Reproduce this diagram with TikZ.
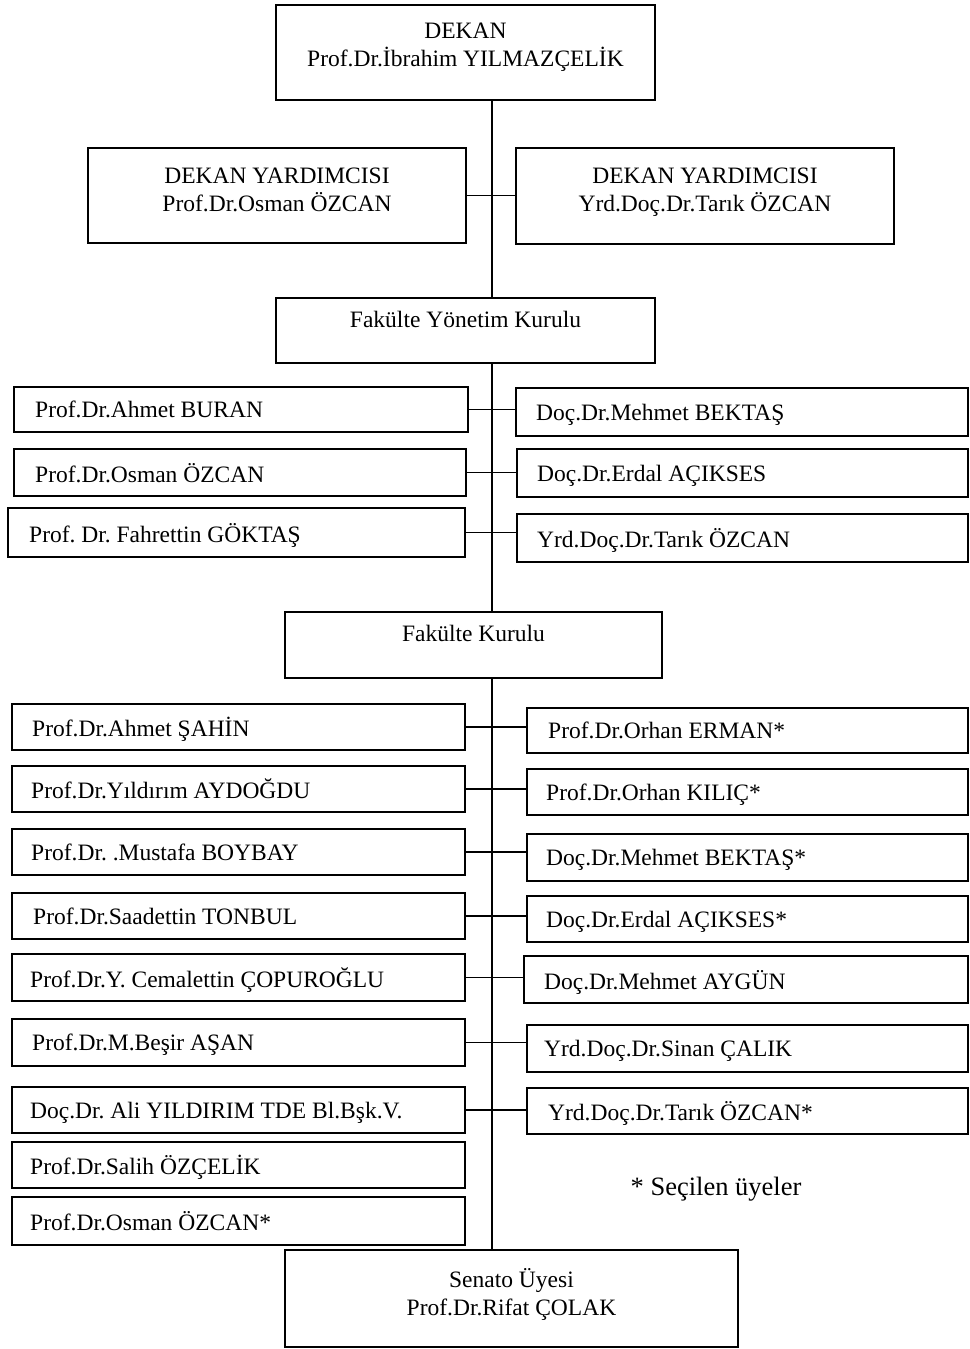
\documentclass[tikz,border=0pt]{standalone}
\usepackage{fontspec}
\setmainfont{Liberation Serif}
\frenchspacing

\begin{document}
\begin{tikzpicture}[x=1pt,y=-1pt,
    kutu/.style={rectangle, draw, line width=2pt, inner sep=0pt},
    baslik/.style={inner sep=0pt, anchor=north, align=center,
                   font=\fontsize{23.5}{28}\selectfont},
    isim/.style={inner sep=0pt, anchor=west, text depth=0pt,
                 font=\fontsize{23.5}{27}\selectfont},
    hat/.style={line width=1.8pt}]

    \useasboundingbox (0,0) rectangle (969,1349);
    \clip (0,0) rectangle (969,1349);

    % dekanlik
    \node[kutu, minimum width=379pt, minimum height=95pt] (dekan) at (465.5,52.5) {};
    \node[baslik] at ([yshift=-19pt]dekan.north) {DEKAN\\Prof.Dr.İbrahim YILMAZÇELİK};

    \node[kutu, minimum width=378pt, minimum height=95pt] (dyl) at (277,195.5) {};
    \node[baslik] at ([yshift=-21pt]dyl.north) {DEKAN YARDIMCISI\\Prof.Dr.Osman ÖZCAN};

    \node[kutu, minimum width=378pt, minimum height=96pt] (dyr) at (705,196) {};
    \node[baslik] at ([yshift=-21pt]dyr.north) {DEKAN YARDIMCISI\\Yrd.Doç.Dr.Tarık ÖZCAN};

    % yonetim kurulu
    \node[kutu, minimum width=379pt, minimum height=65pt] (fyk) at (465.5,330.5) {};
    \node[baslik] at ([yshift=-13.5pt]fyk.north) {Fakülte Yönetim Kurulu};

    \node[kutu, minimum width=454pt, minimum height=45pt] (yl1) at (241,409.5) {};
    \node[isim] at ([xshift=22pt]yl1.west) {Prof.Dr.Ahmet BURAN};
    \node[kutu, minimum width=452pt, minimum height=47pt] (yl2) at (240,472.5) {};
    \node[isim] at ([xshift=22pt]yl2.west) {Prof.Dr.Osman ÖZCAN};
    \node[kutu, minimum width=457pt, minimum height=49pt] (yl3) at (236.5,532.5) {};
    \node[isim] at ([xshift=22pt]yl3.west) {Prof. Dr. Fahrettin GÖKTAŞ};

    \node[kutu, minimum width=452pt, minimum height=48pt] (yr1) at (742,412) {};
    \node[isim] at ([xshift=21pt]yr1.west) {Doç.Dr.Mehmet BEKTAŞ};
    \node[kutu, minimum width=451pt, minimum height=48pt] (yr2) at (742.5,473) {};
    \node[isim] at ([xshift=21pt]yr2.west) {Doç.Dr.Erdal AÇIKSES};
    \node[kutu, minimum width=451pt, minimum height=48pt] (yr3) at (742.5,538) {};
    \node[isim] at ([xshift=21pt]yr3.west) {Yrd.Doç.Dr.Tarık ÖZCAN};

    % fakulte kurulu
    \node[kutu, minimum width=377pt, minimum height=66pt] (fk) at (473.5,645) {};
    \node[baslik] at ([yshift=-13.5pt]fk.north) {Fakülte Kurulu};

    \node[kutu, minimum width=453pt, minimum height=46pt] (kl1) at (238.5,727) {};
    \node[isim] at ([xshift=21pt]kl1.west) {Prof.Dr.Ahmet ŞAHİN};
    \node[kutu, minimum width=453pt, minimum height=46pt] (kl2) at (238.5,789) {};
    \node[isim] at ([xshift=20pt]kl2.west) {Prof.Dr.Yıldırım AYDOĞDU};
    \node[kutu, minimum width=453pt, minimum height=46pt] (kl3) at (238.5,852) {};
    \node[isim] at ([xshift=20pt]kl3.west) {Prof.Dr. .Mustafa BOYBAY};
    \node[kutu, minimum width=453pt, minimum height=46pt] (kl4) at (238.5,916) {};
    \node[isim] at ([xshift=22pt]kl4.west) {Prof.Dr.Saadettin TONBUL};
    \node[kutu, minimum width=453pt, minimum height=47pt] (kl5) at (238.5,977.5) {};
    \node[isim] at ([xshift=19pt]kl5.west) {Prof.Dr.Y. Cemalettin ÇOPUROĞLU};
    \node[kutu, minimum width=453pt, minimum height=47pt] (kl6) at (238.5,1042.5) {};
    \node[isim] at ([xshift=21pt]kl6.west) {Prof.Dr.M.Beşir AŞAN};
    \node[kutu, minimum width=453pt, minimum height=46pt] (kl7) at (238.5,1110) {};
    \node[isim] at ([xshift=19pt]kl7.west) {Doç.Dr. Ali YILDIRIM TDE Bl.Bşk.V.};
    \node[kutu, minimum width=453pt, minimum height=46pt] (kl8) at (238.5,1165) {};
    \node[isim] at ([xshift=19pt]kl8.west) {Prof.Dr.Salih ÖZÇELİK};
    \node[kutu, minimum width=453pt, minimum height=48pt] (kl9) at (238.5,1221) {};
    \node[isim] at ([xshift=19pt]kl9.west) {Prof.Dr.Osman ÖZCAN*};

    \node[kutu, minimum width=441pt, minimum height=45pt] (kr1) at (747.5,730.5) {};
    \node[isim] at ([xshift=22pt]kr1.west) {Prof.Dr.Orhan ERMAN*};
    \node[kutu, minimum width=441pt, minimum height=46pt] (kr2) at (747.5,792) {};
    \node[isim] at ([xshift=20pt]kr2.west) {Prof.Dr.Orhan KILIÇ*};
    \node[kutu, minimum width=441pt, minimum height=47pt] (kr3) at (747.5,857.5) {};
    \node[isim] at ([xshift=20pt]kr3.west) {Doç.Dr.Mehmet BEKTAŞ*};
    \node[kutu, minimum width=441pt, minimum height=46pt] (kr4) at (747.5,919) {};
    \node[isim] at ([xshift=20pt]kr4.west) {Doç.Dr.Erdal AÇIKSES*};
    \node[kutu, minimum width=444pt, minimum height=47pt] (kr5) at (746,979.5) {};
    \node[isim] at ([xshift=21pt]kr5.west) {Doç.Dr.Mehmet AYGÜN};
    \node[kutu, minimum width=441pt, minimum height=47pt] (kr6) at (747.5,1048.5) {};
    \node[isim] at ([xshift=18pt]kr6.west) {Yrd.Doç.Dr.Sinan ÇALIK};
    \node[kutu, minimum width=441pt, minimum height=46pt] (kr7) at (747.5,1111) {};
    \node[isim] at ([xshift=22pt]kr7.west) {Yrd.Doç.Dr.Tarık ÖZCAN*};

    \node[inner sep=0pt, font=\fontsize{26.5}{30}\selectfont] (not) at (716,1189) {* Seçilen üyeler};

    % senato
    \node[kutu, minimum width=453pt, minimum height=97pt] (senato) at (511.5,1298.5) {};
    \node[baslik] at ([yshift=-19pt]senato.north) {Senato Üyesi\\Prof.Dr.Rifat ÇOLAK};

    % baglantilar
    \coordinate (eksen) at (492,0);
    \draw[hat] (dekan.south -| eksen) -- (fyk.north -| eksen);
    \draw[hat] (fyk.south -| eksen) -- (fk.north -| eksen);
    \draw[hat] (fk.south -| eksen) -- (senato.north -| eksen);
    \draw[hat] (dyl.east) -- (dyl.east -| dyr.west);
    \draw[hat] (yl1.east) -- (yl1.east -| yr1.west);
    \draw[hat] (yl2.east) -- (yl2.east -| yr2.west);
    \draw[hat] (yl3.east) -- (yl3.east -| yr3.west);
    \draw[hat] (kl1.east) -- (kl1.east -| kr1.west);
    \draw[hat] (kl2.east) -- (kl2.east -| kr2.west);
    \draw[hat] (kl3.east) -- (kl3.east -| kr3.west);
    \draw[hat] (kl4.east) -- (kl4.east -| kr4.west);
    \draw[hat] (kl5.east) -- (kl5.east -| kr5.west);
    \draw[hat] (kl6.east) -- (kl6.east -| kr6.west);
    \draw[hat] (kl7.east) -- (kl7.east -| kr7.west);

\end{tikzpicture}
\end{document}
